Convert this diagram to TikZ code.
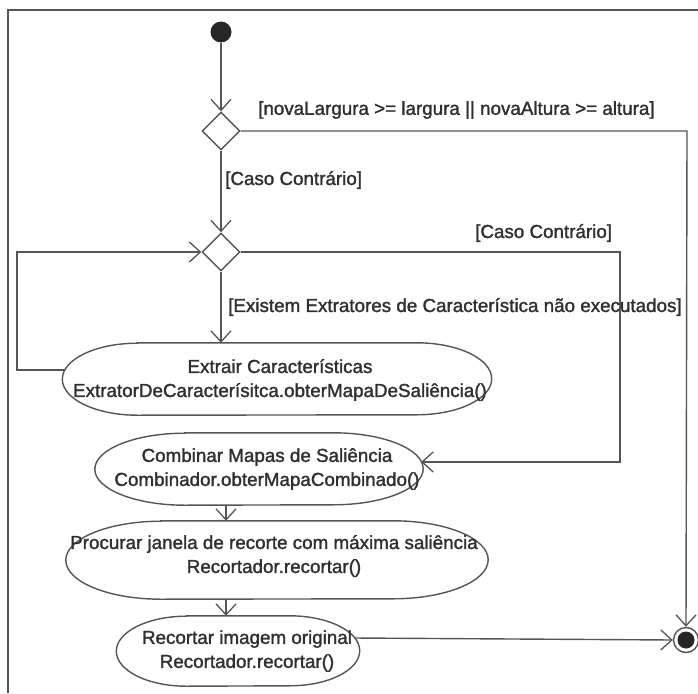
\documentclass[tikz,border=0pt]{standalone}
\usepackage{fontspec}
\newfontfamily\diagfont{Liberation Sans}[FakeBold=1.5]
\usetikzlibrary{shapes.geometric,arrows.meta}
\definecolor{linegray}{HTML}{555555}
\definecolor{textgray}{HTML}{303030}
\tikzset{
  flow/.style={draw=linegray, line width=1.4pt},
  arr/.style={flow, -{Straight Barb[length=11pt,width=20pt,line width=1.3pt]}},
  decision/.style={diamond, draw=linegray, line width=1.4pt, fill=white,
    minimum width=38pt, minimum height=38pt, inner sep=0pt},
  actbox/.style={rectangle, inner sep=0pt},
  acttext/.style={inner sep=0pt, align=center, text=textgray,
    font=\diagfont\fontsize{18.8}{24}\selectfont},
  guard/.style={anchor=west, inner sep=0pt, text=textgray,
    font=\diagfont\fontsize{18.8}{24}\selectfont},
}
% activity outline: flat top and bottom, half-elliptical ends of width #2
\newcommand\actoutline[3]{%
  \draw[flow, fill=white] ([xshift=#2]#1.north west) -- ([xshift=-#2]#1.north east)
    arc[start angle=90, end angle=-90, x radius=#2, y radius=#3]
    -- ([xshift=#2]#1.south west)
    arc[start angle=270, end angle=90, x radius=#2, y radius=#3] -- cycle;}
\begin{document}
\begin{tikzpicture}[x=1pt,y=-1pt]
\useasboundingbox (0,0) rectangle (698,693);
\fill[white] (0,0) rectangle (698,693);

% diagram frame
\draw[linegray, line width=1.6pt] (8,693) -- (8,10) -- (698,10);

% start, decisions and end
\node[circle, fill=black!85, minimum size=21pt, inner sep=0pt] (init) at (221,32) {};
\node[decision] (d1) at (221,131) {};
\node[decision] (d2) at (221,252) {};
\node[circle, draw=linegray, line width=1.4pt, fill=white, minimum size=25pt, inner sep=0pt] (final) at (686,640) {};
\fill[black!85] (final.center) circle (8.5pt);

% activities
\node[actbox, minimum width=429pt, minimum height=72pt] (ext) at (277,379) {};
\actoutline{ext}{75pt}{36pt}
\node[acttext] (extT) at ([xshift=3pt,yshift=-1pt]ext.center)
  {Extrair Características\\ExtratorDeCaracterísitca.obterMapaDeSaliência()};

\node[actbox, minimum width=328pt, minimum height=72pt] (comb) at (259,469) {};
\actoutline{comb}{90pt}{36pt}
\node[acttext] (combT) at ([xshift=8pt]comb.center)
  {Combinar Mapas de Saliência\\Combinador.obterMapaCombinado()};

\node[actbox, minimum width=422pt, minimum height=78pt] (proc) at (277,560) {};
\actoutline{proc}{95pt}{39pt}
\node[acttext] (procT) at ([xshift=-3pt,yshift=4pt]proc.center)
  {Procurar janela de recorte com máxima saliência\\Recortador.recortar()};

\node[actbox, minimum width=243pt, minimum height=70pt] (rec) at (238,651) {};
\actoutline{rec}{70pt}{35pt}
\node[acttext] (recT) at ([xshift=9pt]rec.center)
  {Recortar imagem original\\Recortador.recortar()};

% routing points
\coordinate (c1) at (687,131);
\coordinate (c2) at (620,252);
\coordinate (loopx) at (17,252);
\coordinate (colx) at (226,0);

% connectors
\draw[arr] (init) -- (d1.north);
\draw[arr] (d1.east) -- (c1) -- (final.north);
\draw[arr] (d1.south) -- (d2.north);
\draw[arr] (d2.east) -- (c2) |- ([xshift=-2pt,yshift=7pt]comb.east);
\draw[arr] (d2.south) -- (ext.north -| d2.south);
\draw[arr] ([xshift=2.5pt,yshift=9pt]ext.west) -| (loopx) -- (d2.west);
\draw[arr] (comb.south -| colx) -- (proc.north -| colx);
\draw[arr] (proc.south -| colx) -- (rec.north -| colx);
\draw[arr] ([xshift=-5pt,yshift=13pt]rec.east) -- (final.west);

% guards
\node[guard] (g1) at (258,110) {[novaLargura >= largura || novaAltura >= altura]};
\node[guard] (g2) at (225,180) {[Caso Contrário]};
\node[guard] (g3) at (475,233) {[Caso Contrário]};
\node[guard] (g4) at (228,307) {[Existem Extratores de Característica não executados]};
\end{tikzpicture}
\end{document}
